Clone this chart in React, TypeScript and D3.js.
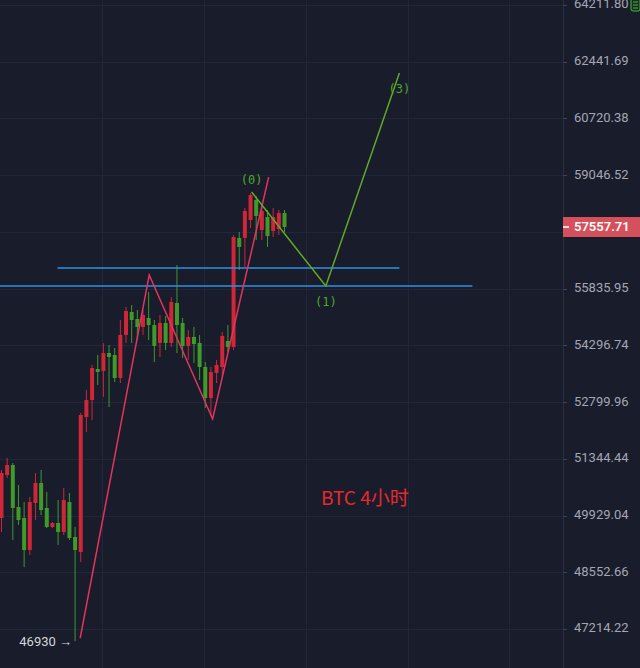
import React from "react";
import * as d3 from "d3";

// ---- data (4h BTC candles) ----
const opens = [49868, 50937, 51188, 50139, 49868, 49088, 50238, 50736, 50115, 49648, 49746, 49525, 50263, 49404, 49040, 52414, 52854, 53668, 53615, 54093, 54040, 53431, 54576, 55197, 55007, 54791, 55034, 54845, 54361, 54899, 54361, 55442, 54899, 54280, 54522, 54361, 53721, 52906, 53563, 53721, 54414, 54254, 57248, 57248, 57757, 58328, 57473, 57842, 57445, 57501, 57956];
const highs = [51062, 51366, 51239, 50686, 50263, 50387, 50987, 51062, 50511, 49770, 50313, 50611, 50486, 49648, 52517, 53115, 53775, 54040, 54361, 54307, 54227, 54980, 55333, 55387, 55251, 55251, 55743, 54980, 55115, 55088, 55606, 56490, 55034, 54710, 54791, 54576, 53854, 53721, 53907, 54656, 54845, 57332, 57416, 58099, 58530, 58442, 58128, 58042, 58099, 58042, 58042];
const lows = [49525, 50861, 49331, 49697, 48679, 48967, 49819, 49942, 49623, 49623, 49209, 49452, 49331, 46930, 48799, 52028, 52336, 53246, 52932, 52673, 53325, 53299, 54361, 54361, 54441, 54576, 54441, 53854, 53987, 54173, 54254, 54093, 53960, 53907, 53828, 53378, 52647, 52440, 53299, 53457, 54120, 54173, 56351, 56434, 57530, 57191, 57191, 56994, 57276, 57332, 57416];
const closes = [50987, 51188, 50115, 49819, 49088, 50263, 50736, 50065, 49648, 49746, 49525, 50313, 49380, 49088, 52465, 52854, 53695, 53589, 54093, 53987, 53431, 54576, 55224, 54980, 54791, 55115, 54845, 54280, 54899, 54361, 55469, 54845, 54280, 54522, 54334, 53721, 52906, 53589, 53775, 54549, 54254, 57276, 56994, 58014, 58473, 57871, 58014, 57304, 57842, 57956, 57557.71];

const priceTicks = [64211.8, 62441.69, 60720.38, 59046.52, 57419.3, 55835.95, 54296.74, 52799.96, 51344.44, 49929.04, 48552.66, 47214.22];
const hiddenTick = 57419.3; // covered by the last-price tag
const lastPrice = 57557.71;
const lowPrice = 46930;
const lowIndex = 13;

const timeGridIdx = [17.75, 35.75, 53.75, 71.75, 89.75];

const redWaveIdx = [13.9, 26.1, 37.3, 47.2];
const redWavePrice = [47000, 56213, 52362, 58992];

const greenWaveIdx = [44.2, 57.3, 70.3];
const greenWavePrice = [58559, 55908, 62096];
const greenWaveLabels = ["(0)", "(1)", "(3)"];

const levelPrices = [56406, 55908];
const levelFrom = [9.9, -0.4];
const levelTo = [70.3, 83.2];

const titleText = "BTC 4小时";

// ---- layout ----
const W = 640;
const H = 668;
const axisX = 563;
const BG = "#191c2b";
const GRID = "#21263a";
const UP = "#cf2638";
const DOWN = "#3f9a2a";

export default function App() {
  const x = d3.scaleLinear().domain([0, 50]).range([1.5, 284.5]);
  const y = d3.scaleLog().domain([47214.22, 64211.8]).range([629, 5]);
  const line = d3
    .line<[number, number]>()
    .x((d) => x(d[0]))
    .y((d) => y(d[1]));

  const redPts = redWaveIdx.map((v, i) => [v, redWavePrice[i]] as [number, number]);
  const greenPts = greenWaveIdx.map((v, i) => [v, greenWavePrice[i]] as [number, number]);
  const bodyW = 4;
  const labelDy = [-8, 20, 20];

  return (
    <svg
      width={W}
      height={H}
      style={{ position: "fixed", left: 0, top: 0, background: BG }}
      fontFamily="Roboto, 'Noto Sans', sans-serif"
    >
      <rect x={0} y={0} width={W} height={H} fill={BG} />
      {/* grid */}
      {priceTicks.map((t) => (
        <line key={"hg" + t} x1={0} x2={axisX} y1={Math.round(y(t)) + 0.5} y2={Math.round(y(t)) + 0.5} stroke={GRID} strokeWidth={1} />
      ))}
      {timeGridIdx.map((t) => (
        <line key={"vg" + t} x1={Math.round(x(t)) + 0.5} x2={Math.round(x(t)) + 0.5} y1={0} y2={H} stroke={GRID} strokeWidth={1} />
      ))}

      {/* candles */}
      {opens.map((o, i) => {
        const c = closes[i];
        const up = c >= o;
        const col = up ? UP : DOWN;
        const cx = x(i);
        const top = y(Math.max(o, c));
        const bot = y(Math.min(o, c));
        return (
          <g key={"c" + i}>
            <line x1={cx} x2={cx} y1={y(highs[i])} y2={y(lows[i])} stroke={col} strokeWidth={1} />
            <rect x={cx - bodyW / 2} y={top} width={bodyW} height={Math.max(1, bot - top)} fill={col} />
          </g>
        );
      })}

      {/* horizontal levels */}
      {levelPrices.map((p, i) => (
        <line key={"lv" + i} x1={x(levelFrom[i])} x2={x(levelTo[i])} y1={y(p)} y2={y(p)} stroke="#2e8fe6" strokeWidth={1.5} />
      ))}

      {/* red wave */}
      <path d={line(redPts) || ""} fill="none" stroke="#e5345d" strokeWidth={1.5} />
      {/* green wave */}
      <path d={line(greenPts) || ""} fill="none" stroke="#62a826" strokeWidth={1.5} />
      {greenPts.map((p, i) => (
        <text
          key={"gl" + i}
          x={x(p[0])}
          y={y(p[1]) + labelDy[i]}
          textAnchor="middle"
          fontFamily="'DejaVu Sans Mono', monospace"
          fontSize={12}
          fill="#4fa82a"
        >
          {greenWaveLabels[i]}
        </text>
      ))}

      {/* low label */}
      <text x={x(lowIndex) - 3} y={y(lowPrice) + 1} textAnchor="end" dominantBaseline="middle" fontSize={13} fill="#d4d6dc">
        {lowPrice} →
      </text>

      {/* title */}
      <text x={321} y={505} fontSize={19} fill="#e8282e" fontFamily="'Noto Sans CJK SC', 'Noto Sans', sans-serif">
        {titleText}
      </text>

      {/* price axis */}
      <rect x={axisX} y={0} width={W - axisX} height={H} fill={BG} />
      <line x1={axisX + 0.5} x2={axisX + 0.5} y1={0} y2={H} stroke="#2b3042" strokeWidth={1} />
      {priceTicks
        .filter((t) => t !== hiddenTick)
        .map((t) => (
          <g key={"t" + t}>
            <line x1={axisX} x2={axisX + 4} y1={Math.round(y(t)) + 0.5} y2={Math.round(y(t)) + 0.5} stroke="#3a3f52" />
            <text x={574} y={y(t)} dominantBaseline="middle" fontSize={13} fill="#a4a7b3">
              {t.toFixed(2)}
            </text>
          </g>
        ))}
      {/* last price tag */}
      <rect x={axisX} y={y(lastPrice) - 10} width={W - axisX} height={20} fill="#d4505b" />
      <line x1={axisX} x2={axisX + 6} y1={y(lastPrice)} y2={y(lastPrice)} stroke="#ffffff" strokeWidth={1.5} />
      <text x={574} y={y(lastPrice) + 1} dominantBaseline="middle" fontSize={13} fontWeight={600} fill="#ffffff">
        {lastPrice.toFixed(2)}
      </text>
      {/* small icon top right */}
      <rect x={631} y={-2} width={9} height={13} rx={2} fill="#1f2a22" stroke="#3fbf3f" strokeWidth={1} />
      {[2, 5, 8].map((d) => (
        <line key={"ic" + d} x1={633} x2={638} y1={d} y2={d} stroke="#3fbf3f" strokeWidth={1} />
      ))}
    </svg>
  );
}
